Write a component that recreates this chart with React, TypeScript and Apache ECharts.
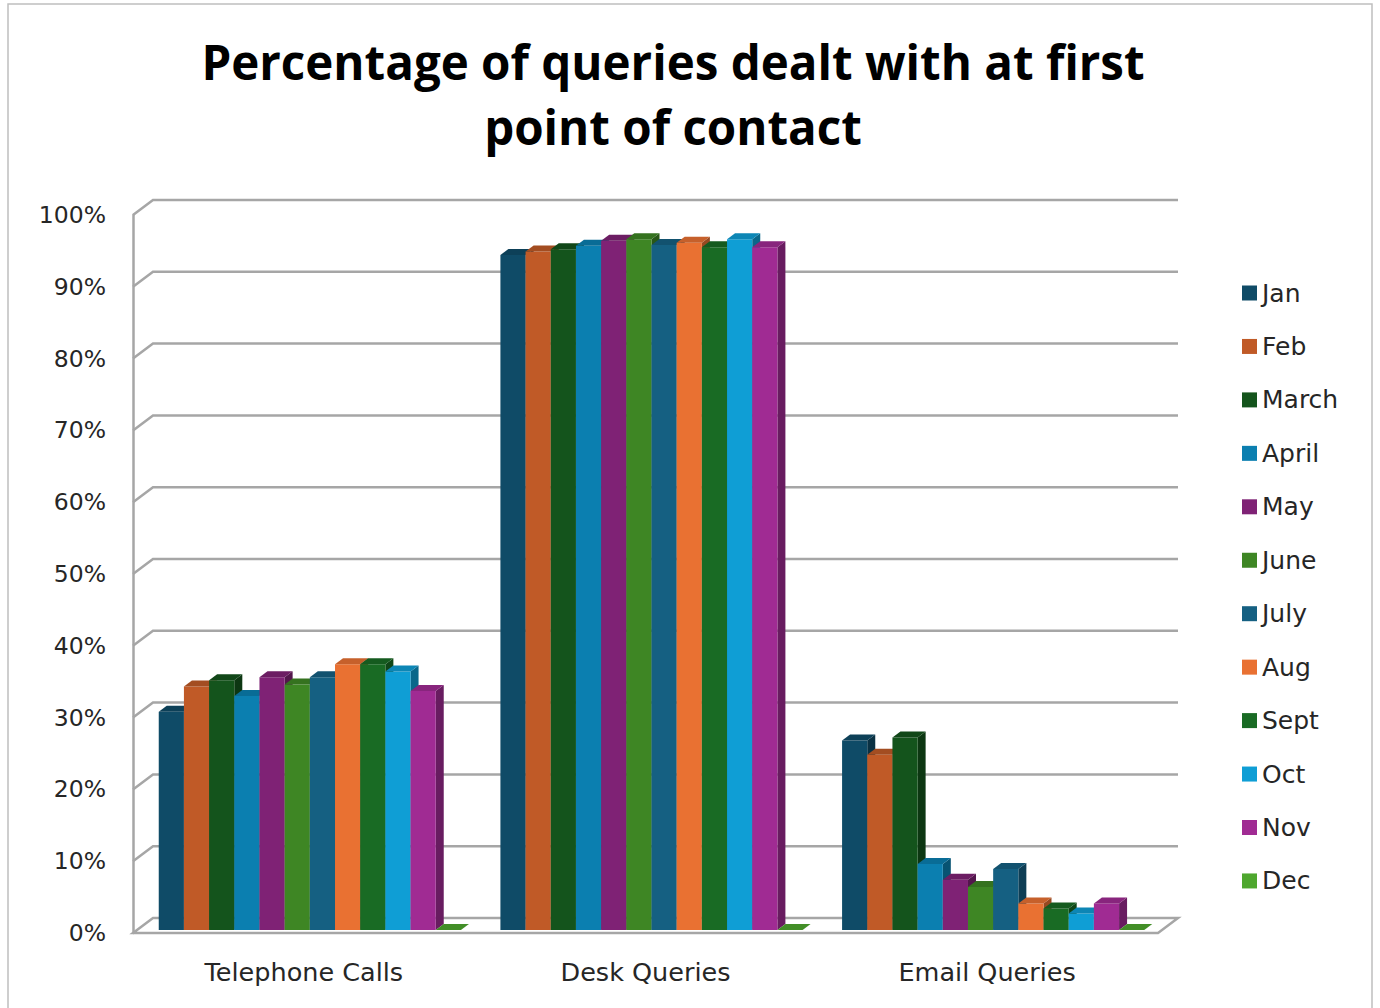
import React, { useEffect, useRef } from "react";
import * as echarts from "echarts";

const categories = ["Telephone Calls", "Desk Queries", "Email Queries"];
const months = ["Jan", "Feb", "March", "April", "May", "June", "July", "Aug", "Sept", "Oct", "Nov", "Dec"];
const telephoneCalls = [30.4, 33.9, 34.8, 32.6, 35.2, 34.2, 35.2, 37.0, 37.0, 36.0, 33.3, 0];
const deskQueries = [94.0, 94.5, 94.8, 95.3, 96.0, 96.2, 95.4, 95.7, 95.1, 96.2, 95.1, 0];
const emailQueries = [26.4, 24.4, 26.8, 9.2, 7.0, 6.0, 8.5, 3.7, 3.0, 2.3, 3.7, 0];
const yTicks = [0, 10, 20, 30, 40, 50, 60, 70, 80, 90, 100];
const monthColors = [
  "#0f4b67", "#c05a27", "#14541c", "#0b7fb0", "#7f2275", "#3e8624",
  "#156082", "#e97132", "#196b24", "#0f9ed5", "#a02b93", "#4ea72e",
];

const TITLE_FONT = "'Open Sans', 'Noto Sans', sans-serif";
const FONT = "'DejaVu Sans', 'Noto Sans', sans-serif";
const WALL_DX = 20;
const WALL_DY = -15;
const BAR_DX = 6;
const BAR_DY = -3;
const TOP_DX = 8;
const TOP_DY = -6;
const BAR_RATIO = 0.0737;

function shade(hex: string, f: number): string {
  const n = parseInt(hex.slice(1), 16);
  let r = (n >> 16) & 255, g = (n >> 8) & 255, b = n & 255;
  r = Math.round(r * (1 - f)); g = Math.round(g * (1 - f)); b = Math.round(b * (1 - f));
  return "rgb(" + r + "," + g + "," + b + ")";
}

export default function App() {
  const ref = useRef<HTMLDivElement>(null);
  useEffect(() => {
    document.body.style.margin = "0";
    const chart = echarts.init(ref.current!, null, { renderer: "svg" });
    const valuesByCat = [telephoneCalls, deskQueries, emailQueries];

    const barSeries = months.map((m, i) => ({
      name: m,
      type: "custom",
      itemStyle: { color: monthColors[i] },
      data: categories.map((_, j) => [j, valuesByCat[j][i]]),
      renderItem: (params: any, api: any) => {
        const cat = api.value(0);
        const v = api.value(1);
        const base = api.coord([cat, 0]);
        const top = api.coord([cat, v]);
        const catW = api.size([1, 0])[0];
        const bw = catW * BAR_RATIO;
        const x0 = base[0] - 6 * bw + i * bw + BAR_DX;
        const by = base[1] + BAR_DY;
        const ty = top[1] + BAR_DY;
        const c = monthColors[i];
        return {
          type: "group",
          children: [
            {
              type: "polygon",
              shape: { points: [[x0 + bw, ty], [x0 + bw + TOP_DX, ty + TOP_DY], [x0 + bw + TOP_DX, by + TOP_DY], [x0 + bw, by]] },
              style: { fill: shade(c, 0.35) },
            },
            {
              type: "rect",
              shape: { x: x0, y: ty, width: bw, height: by - ty },
              style: { fill: c },
            },
            {
              type: "polygon",
              shape: { points: [[x0, ty], [x0 + bw, ty], [x0 + bw + TOP_DX, ty + TOP_DY], [x0 + TOP_DX, ty + TOP_DY]] },
              style: { fill: shade(c, 0.15) },
            },
          ],
        };
      },
    }));

    const wallSeries = {
      name: "wall",
      type: "custom",
      silent: true,
      z: 1,
      data: yTicks.map((t) => [0, t]),
      renderItem: (params: any, api: any) => {
        const v = api.value(1);
        const p = api.coord([0, v]);
        const gx = params.coordSys.x;
        const gw = params.coordSys.width;
        const y = p[1];
        const stroke = "#a6a6a6";
        if (v === 0) {
          return {
            type: "polygon",
            shape: { points: [[gx, y], [gx + WALL_DX, y + WALL_DY], [gx + gw + WALL_DX, y + WALL_DY], [gx + gw, y]] },
            style: { fill: "#ffffff", stroke, lineWidth: 2.5 },
          };
        }
        return {
          type: "polyline",
          shape: { points: [[gx, y], [gx + WALL_DX, y + WALL_DY], [gx + gw + WALL_DX, y + WALL_DY]] },
          style: { fill: "none", stroke, lineWidth: 2.5 },
        };
      },
    };

    chart.setOption({
      animation: false,
      backgroundColor: "#ffffff",
      title: {
        text: "Percentage of queries dealt with at first\npoint of contact",
        left: 668,
        textAlign: "center",
        top: 24,
        textStyle: { fontFamily: TITLE_FONT, fontSize: 47.5, fontWeight: "bold", color: "#000000", lineHeight: 65 },
      },
      graphic: [
        {
          type: "rect",
          shape: { x: 8, y: 4, width: 1364, height: 1012 },
          style: { fill: "none", stroke: "#bfbfbf", lineWidth: 1.5 },
          silent: true,
        },
      ],
      legend: {
        data: months,
        orient: "vertical",
        left: 1237,
        top: 275,
        itemWidth: 15,
        itemHeight: 15,
        itemGap: 27.45,
        icon: "rect",
        textStyle: { fontFamily: FONT, fontSize: 25, color: "#262626", lineHeight: 26 },
      },
      grid: { left: 133, right: 222, top: 215, bottom: 75 },
      xAxis: {
        type: "category",
        data: categories,
        axisLine: { show: false },
        axisTick: { show: false },
        axisLabel: { fontFamily: FONT, fontSize: 25.5, color: "#262626", margin: 26 },
      },
      yAxis: {
        type: "value",
        min: 0,
        max: 100,
        interval: 10,
        axisLine: { show: true, lineStyle: { color: "#a6a6a6", width: 2.5 } },
        axisTick: { show: false },
        splitLine: { show: false },
        axisLabel: { fontFamily: FONT, fontSize: 23.5, color: "#262626", margin: 27, formatter: "{value}%" },
      },
      series: [wallSeries, ...barSeries],
    });
    return () => chart.dispose();
  }, []);
  return <div ref={ref} style={{ width: 1380, height: 1008 }} />;
}
